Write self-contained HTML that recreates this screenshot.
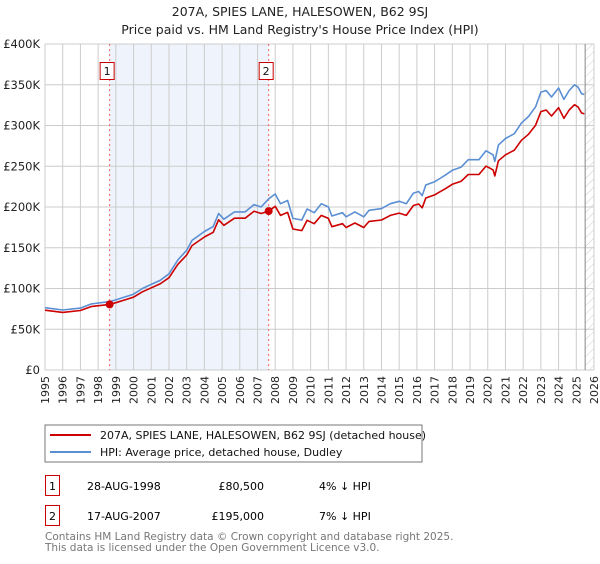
<!DOCTYPE html>
<html><head><meta charset="utf-8"><style>
body{margin:0;background:#fff;width:600px;height:560px;overflow:hidden;font-family:"DejaVu Sans","Liberation Sans",sans-serif;}
svg text{font-family:"DejaVu Sans","Liberation Sans",sans-serif;}
</style></head><body>
<svg id="chart" width="600" height="560" xmlns="http://www.w3.org/2000/svg">
<defs><pattern id="hatch" width="6" height="6" patternUnits="userSpaceOnUse" patternTransform="rotate(45)"><line x1="0" y1="0" x2="0" y2="6" stroke="#ccc" stroke-width="1"/></pattern></defs>
<text x="300" y="16" text-anchor="middle" font-size="12.5" fill="#222">207A, SPIES LANE, HALESOWEN, B62 9SJ</text>
<text x="300" y="34" text-anchor="middle" font-size="12.5" fill="#222">Price paid vs. HM Land Registry's House Price Index (HPI)</text>
<g id="grid"></g><g id="marks"></g>
<rect x="45" y="425" width="377" height="37" fill="#fff" stroke="#777"/>
<line x1="50" y1="435" x2="91" y2="435" stroke="#cc0000" stroke-width="2"/>
<text x="100" y="439" font-size="11" fill="#111">207A, SPIES LANE, HALESOWEN, B62 9SJ (detached house)</text>
<line x1="50" y1="452" x2="91" y2="452" stroke="#5b8fd4" stroke-width="2"/>
<text x="100" y="456" font-size="11" fill="#111">HPI: Average price, detached house, Dudley</text>
<g>
<rect x="45.5" y="475.5" width="14" height="20" fill="#fff" stroke="#cc0000"/>
<text x="52.5" y="490" text-anchor="middle" font-size="11">1</text>
<text x="87" y="490" font-size="11">28-AUG-1998</text>
<text x="264" y="490" text-anchor="end" font-size="11">£80,500</text>
<text x="319" y="490" font-size="11">4% ↓ HPI</text></g>
<g>
<rect x="45.5" y="505.5" width="14" height="20" fill="#fff" stroke="#cc0000"/>
<text x="52.5" y="520" text-anchor="middle" font-size="11">2</text>
<text x="87" y="520" font-size="11">17-AUG-2007</text>
<text x="264" y="520" text-anchor="end" font-size="11">£195,000</text>
<text x="319" y="520" font-size="11">7% ↓ HPI</text></g>
<text x="45" y="540" font-size="10.5" fill="#777">Contains HM Land Registry data © Crown copyright and database right 2025.</text>
<text x="45" y="551" font-size="10.5" fill="#777">This data is licensed under the Open Government Licence v3.0.</text>
</svg>
<script>
const dates=[1995,1996,1997,1997.6,1998.65,1999,2000,2000.5,2001,2001.5,2002,2002.5,2003,2003.3,2004,2004.5,2004.8,2005.1,2005.7,2006.3,2006.8,2007.2,2007.63,2008,2008.3,2008.7,2009,2009.5,2009.8,2010.2,2010.6,2011,2011.2,2011.8,2012,2012.5,2013,2013.3,2014,2014.5,2015,2015.4,2015.8,2016.1,2016.3,2016.5,2017,2017.3,2017.6,2018,2018.5,2018.9,2019.5,2019.9,2020.3,2020.4,2020.6,2021,2021.5,2021.9,2022.3,2022.7,2023,2023.3,2023.6,2024,2024.3,2024.6,2024.9,2025.1,2025.3,2025.45];
const hpi=[76.5,73.6,76,81,83.9,86,93,100,105,110,118,135,147,159,170,176,192,185,194,194,203,200,210,216,204,208,186,184,197.5,193,204,200,189,193,188,194,188,196,198,204,207,204,217,219,214,227,231,235,239,245,249,258,258,269,264,256,276,284,290,303,311,323,341,343,335,346,332,343,350,347,339,338];
const pricePaid=[73.4,70.7,73,77.8,80.5,82.6,89.3,96,100.8,105.6,113.3,129.6,141.1,152.6,163.2,169,184.3,177.6,186.2,186.2,194.9,192,195,200.9,189.7,193.4,173,171.1,183.7,179.5,189.7,186,175.8,179.5,174.8,180.4,174.8,182.3,184.1,189.7,192.5,189.7,201.8,203.7,199,211.1,214.8,218.6,222.3,227.9,231.6,239.9,239.9,250.2,245.5,238.1,256.7,264.1,269.7,281.8,289.2,300.4,317.1,319,311.6,321.8,308.8,319,325.5,322.7,315.3,314.3];
const saleDates=[1998.65,2007.63];
const saleValues=[80.5,195];
const saleLabels=["1","2"];
const yTicks=[0,50,100,150,200,250,300,350,400];
const yTickLabels=["£0","£50K","£100K","£150K","£200K","£250K","£300K","£350K","£400K"];
const xTicks=[1995,1996,1997,1998,1999,2000,2001,2002,2003,2004,2005,2006,2007,2008,2009,2010,2011,2012,2013,2014,2015,2016,2017,2018,2019,2020,2021,2022,2023,2024,2025,2026];
const dataEnd=2025.5;

const NS="http://www.w3.org/2000/svg";
const L=45,R=594,T=44,B=370;
const X=d=>L+(d-1995)/(2026-1995)*(R-L);
const Y=v=>B-v/400*(B-T);
function mk(p,tag,a){const e=document.createElementNS(NS,tag);for(const k in a)e.setAttribute(k,a[k]);p.appendChild(e);return e;}
const g=document.getElementById('grid'),m=document.getElementById('marks');
const shade=mk(g,'rect',{x:X(saleDates[0]),y:T,width:X(saleDates[1])-X(saleDates[0]),height:B-T,fill:'#eef3fc'});


xTicks.forEach(t=>{const l=mk(g,'line',{x1:X(t),x2:X(t),y1:T,y2:B,stroke:'#ccc','stroke-width':1});


const tx=mk(g,'text',{x:0,y:0,'font-size':11,fill:'#222','text-anchor':'end',transform:`translate(${X(t)+4},${B+6}) rotate(-90)`});tx.textContent=t;

});
yTicks.forEach((t,i)=>{const l=mk(g,'line',{x1:L,x2:R,y1:Y(t),y2:Y(t),stroke:'#ccc','stroke-width':1});


const tx=mk(g,'text',{x:40,y:Y(t)+4,'font-size':11.5,fill:'#222','text-anchor':'end'});tx.textContent=yTickLabels[i];

});
const h=mk(g,'rect',{x:X(dataEnd),y:T,width:R-X(dataEnd),height:B-T,fill:'url(#hatch)'});


const el=mk(g,'line',{x1:X(dataEnd),x2:X(dataEnd),y1:T,y2:B,stroke:'#888'});


saleDates.forEach((d,i)=>{const l=mk(m,'line',{x1:X(d),x2:X(d),y1:T,y2:B,stroke:'#f06060','stroke-dasharray':'2,3'});


const r=mk(m,'rect',{x:X(d)-9.5,y:62.5,width:14,height:17,fill:'#fff',stroke:'#cc0000'});


const t=mk(m,'text',{x:X(d)-2.5,y:75,'font-size':11,'text-anchor':'middle',fill:'#111'});t.textContent=saleLabels[i];

});
function path(vals,color,name){const d=vals.map((v,i)=>(i?'L':'M')+X(dates[i]).toFixed(1)+','+Y(v).toFixed(1)).join('');
const p=mk(m,'path',{d:d,fill:'none',stroke:color,'stroke-width':1.6,'stroke-linejoin':'round'});

}
path(hpi,'#5b8fd4','hpi-line');
path(pricePaid,'#cc0000','price-paid-line');
saleDates.forEach((d,i)=>{const c=mk(m,'circle',{cx:X(d),cy:Y(saleValues[i]),r:4,fill:'#cc0000'});

});
</script>
</body></html>
